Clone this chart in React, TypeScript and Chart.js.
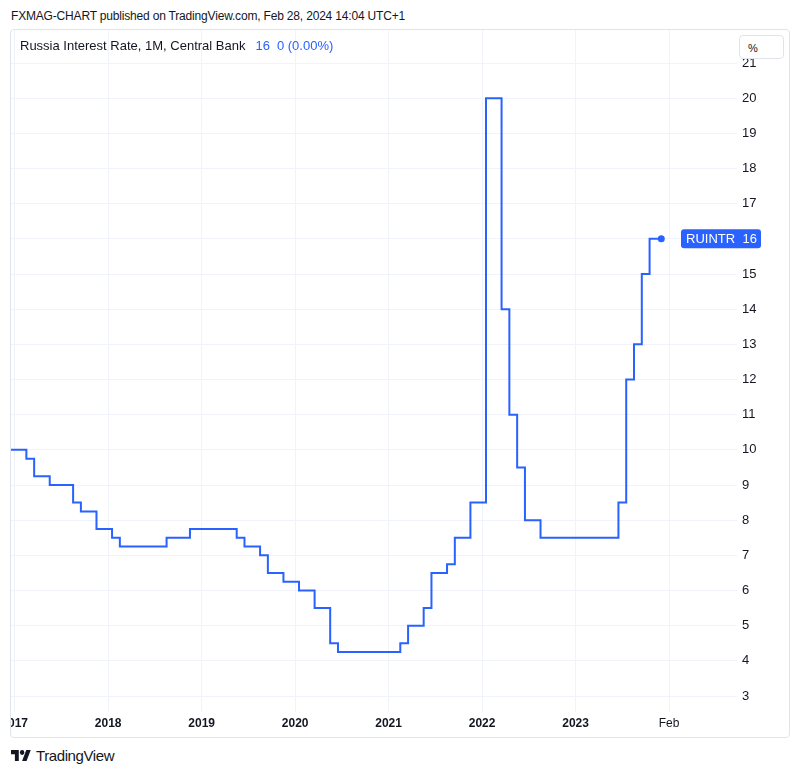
import React, { useEffect, useRef } from "react";
import { Chart, registerables } from "chart.js";

Chart.register(...registerables);

// Monthly Russia key rate (%), one value per month bar
const rateDec2016 = [10];
const rate2017 = [10, 10, 9.75, 9.25, 9.25, 9, 9, 9, 8.5, 8.25, 8.25, 7.75];
const rate2018 = [7.75, 7.5, 7.25, 7.25, 7.25, 7.25, 7.25, 7.25, 7.5, 7.5, 7.5, 7.75];
const rate2019 = [7.75, 7.75, 7.75, 7.75, 7.75, 7.5, 7.25, 7.25, 7, 6.5, 6.5, 6.25];
const rate2020 = [6.25, 6, 6, 5.5, 5.5, 4.5, 4.25, 4.25, 4.25, 4.25, 4.25, 4.25];
const rate2021 = [4.25, 4.25, 4.5, 5, 5, 5.5, 6.5, 6.5, 6.75, 7.5, 7.5, 8.5];
const rate2022 = [8.5, 20, 20, 14, 11, 9.5, 8, 8, 7.5, 7.5, 7.5, 7.5];
const rate2023 = [7.5, 7.5, 7.5, 7.5, 7.5, 7.5, 8.5, 12, 13, 15, 16, 16];

// x ticks (month index, 0 = Jan 2017) and their labels
const tickMonths = [0, 12, 24, 36, 48, 60, 72, 84];
const tickLabels = ["2017", "2018", "2019", "2020", "2021", "2022", "2023", "Feb"];

const seriesName = "RUINTR";
const lastValueText = "16";
const BLUE = "#2962FF";
const TEXT = "#131722";
const GRID = "#f0f3fa";
const FONT = "'Liberation Sans', Arial, sans-serif";

const allRates = [
  ...rateDec2016,
  ...rate2017,
  ...rate2018,
  ...rate2019,
  ...rate2020,
  ...rate2021,
  ...rate2022,
  ...rate2023,
];
const points = allRates.map((v, i) => ({ x: i - rateDec2016.length, y: v }));

const lastLabelPlugin = {
  id: "lastLabel",
  afterDatasetsDraw(chart: any) {
    const meta = chart.getDatasetMeta(0);
    const el = meta.data[meta.data.length - 1];
    if (!el) return;
    const ctx = chart.ctx;
    const area = chart.chartArea;
    const y = el.y;
    ctx.save();
    // last value dot
    ctx.fillStyle = BLUE;
    ctx.beginPath();
    ctx.arc(el.x, el.y, 3.5, 0, Math.PI * 2);
    ctx.fill();
    // series label
    const left = area.right - 56;
    const w = 80;
    const h = 19;
    ctx.beginPath();
    (ctx as any).roundRect(left, y - h / 2, w, h, 3);
    ctx.fill();
    ctx.fillStyle = "#ffffff";
    ctx.font = `13px ${FONT}`;
    ctx.textBaseline = "middle";
    ctx.textAlign = "left";
    ctx.fillText(seriesName, left + 5, y + 0.5);
    ctx.textAlign = "right";
    ctx.fillText(lastValueText, left + w - 4, y + 0.5);
    ctx.restore();
  },
};

export default function App() {
  const ref = useRef<HTMLCanvasElement | null>(null);

  useEffect(() => {
    document.body.style.margin = "0";
    const canvas = ref.current;
    if (!canvas) return;
    const chart = new Chart(canvas, {
      type: "line",
      data: {
        datasets: [
          {
            data: points,
            borderColor: BLUE,
            backgroundColor: BLUE,
            borderWidth: 2,
            stepped: "middle",
            pointRadius: 0,
            pointHoverRadius: 0,
            pointBorderWidth: 0,
            fill: false,
          },
        ],
      },
      options: {
        animation: false,
        responsive: false,
        maintainAspectRatio: false,
        layout: { padding: 0 },
        plugins: { legend: { display: false }, tooltip: { enabled: false } },
        events: [],
        scales: {
          x: {
            type: "linear",
            min: -0.6,
            max: 92.72,
            afterBuildTicks: (s: any) => {
              s.ticks = tickMonths.map((v) => ({ value: v }));
            },
            afterFit: (s: any) => {
              s.height = 27;
              s.paddingLeft = 0;
              s.paddingRight = 0;
            },
            grid: { color: GRID, drawTicks: false, lineWidth: 1 },
            border: { display: false },
            ticks: {
              autoSkip: false,
              maxRotation: 0,
              padding: 4,
              color: TEXT,
              font: (c: any) => ({
                family: FONT,
                size: 12,
                weight: c.tick && c.tick.label === "Feb" ? "normal" : "bold",
              }),
              callback: (v: any) => {
                const i = tickMonths.indexOf(v);
                return i >= 0 ? tickLabels[i] : "";
              },
            },
          },
          y: {
            type: "linear",
            position: "right",
            min: 2.545,
            max: 21.94,
            afterFit: (s: any) => {
              s.width = 51;
              s.paddingTop = 0;
              s.paddingBottom = 0;
            },
            grid: { color: GRID, drawTicks: false, lineWidth: 1 },
            border: { display: false },
            ticks: {
              stepSize: 1,
              includeBounds: false,
              padding: 5,
              crossAlign: "near",
              color: TEXT,
              font: { family: FONT, size: 13 },
            },
          },
        },
      },
      plugins: [lastLabelPlugin],
    } as any);
    return () => chart.destroy();
  }, []);

  return (
    <div
      style={{
        position: "fixed",
        left: 0,
        top: 0,
        width: 800,
        height: 774,
        background: "#ffffff",
        fontFamily: FONT,
        color: TEXT,
        overflow: "hidden",
      }}
    >
      <div
        style={{
          position: "absolute",
          left: 11,
          top: 9,
          fontSize: 12,
          letterSpacing: -0.18,
          whiteSpace: "nowrap",
        }}
      >
        FXMAG-CHART published on TradingView.com, Feb 28, 2024 14:04 UTC+1
      </div>
      <canvas
        ref={ref}
        width={778}
        height={709}
        style={{ position: "absolute", left: 10, top: 30, width: 778, height: 709 }}
      />
      <div
        style={{
          position: "absolute",
          left: 737,
          top: 738,
          width: 63,
          height: 3,
          background: "#ffffff",
        }}
      />
      <div
        style={{
          position: "absolute",
          left: 10,
          top: 29,
          width: 778,
          height: 707,
          border: "1px solid #e0e3eb",
          borderRadius: 4,
          pointerEvents: "none",
        }}
      />
      <div style={{ position: "absolute", left: 20, top: 38, fontSize: 13, whiteSpace: "nowrap" }}>
        Russia Interest Rate, 1M, Central Bank
        <span style={{ color: BLUE, marginLeft: 10 }}>16</span>
        <span style={{ color: BLUE, marginLeft: 7 }}>0 (0.00%)</span>
      </div>
      <div
        style={{
          position: "absolute",
          left: 739,
          top: 35,
          width: 45,
          height: 24,
          background: "#ffffff",
          border: "1px solid #e0e3eb",
          borderRadius: 4,
          fontSize: 11,
          lineHeight: "24px",
          paddingLeft: 8,
          boxSizing: "border-box",
        }}
      >
        %
      </div>
      <div style={{ position: "absolute", left: 11, top: 747, display: "flex", alignItems: "center" }}>
        <svg width={20} height={11} viewBox="0 4 36 18" preserveAspectRatio="none">
          <path d="M14 22H7V11H0V4h14v18zM28 22h-8l7.5-18h8L28 22z" fill={TEXT} />
          <circle cx={20} cy={8} r={4} fill={TEXT} />
        </svg>
        <span style={{ marginLeft: 5, fontSize: 15, letterSpacing: -0.4 }}>TradingView</span>
      </div>
    </div>
  );
}
